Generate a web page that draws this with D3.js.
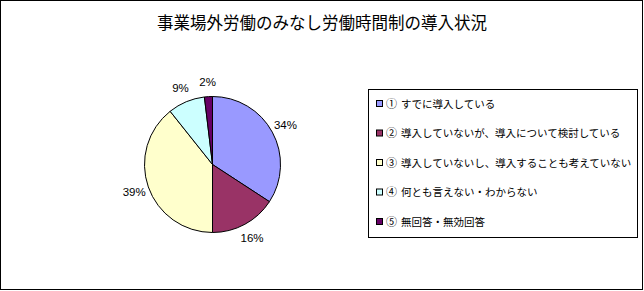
<!DOCTYPE html>
<html>
<head>
<meta charset="utf-8">
<script src="https://cdn.jsdelivr.net/npm/d3@7"></script>
<style>
  body { margin: 0; background: #fff; }
  svg { display: block; }
  text { font-family: "Noto Sans CJK JP", sans-serif; }
</style>
</head>
<body>
<svg id="canvas" width="644" height="291"></svg>
<script>
let chart_title = '事業場外労働のみなし労働時間制の導入状況'
let markers = ['①', '②', '③', '④', '⑤']
let categories = [
    'すでに導入している',
    '導入していないが、導入について検討している',
    '導入していないし、導入することも考えていない',
    '何とも言えない・わからない',
    '無回答・無効回答'
]
let values = [34.2, 15.8, 39.3, 8.8, 1.9]
let labels = ['34%', '16%', '39%', '9%', '2%']
let colors = ['#9999FF', '#993366', '#FFFFCC', '#CCFFFF', '#660066']

let canvas = d3.select('#canvas')

// outer chart frame
canvas.append('rect')
    .attr('x', 0.5).attr('y', 0.5)
    .attr('width', 642).attr('height', 289)
    .attr('fill', '#fff').attr('stroke', '#000').attr('stroke-width', 1)

canvas.append('text')
    .attr('x', 322).attr('y', 29)
    .attr('text-anchor', 'middle')
    .attr('font-size', 16.5)
    .text(chart_title)

// pie
let cx = 212.5, cy = 164.5, r = 68
let pie = d3.pie().sort(null).value(d => d)
let arcs = pie(values)
let arc = d3.arc().innerRadius(0).outerRadius(r)
let labelArc = d3.arc().innerRadius(83).outerRadius(83)

let g = canvas.append('g').attr('transform', 'translate(' + cx + ',' + cy + ')')

g.selectAll('path')
    .data(arcs)
    .enter()
    .append('path')
    .attr('d', arc)
    .attr('fill', (d, i) => colors[i])
    .attr('stroke', '#000')
    .attr('stroke-width', 1)

g.selectAll('text.lbl')
    .data(arcs)
    .enter()
    .append('text')
    .attr('class', 'lbl')
    .attr('transform', d => 'translate(' + labelArc.centroid(d) + ')')
    .attr('text-anchor', 'middle')
    .attr('dy', '0.36em')
    .attr('font-size', 11.5)
    .style('font-family', '"Liberation Sans", Arial, sans-serif')
    .text((d, i) => labels[i])

// legend
let lx = 368.5, ly = 89.5, lw = 269, lh = 148
canvas.append('rect')
    .attr('x', lx).attr('y', ly)
    .attr('width', lw).attr('height', lh)
    .attr('fill', '#fff').attr('stroke', '#000').attr('stroke-width', 1)

let yScale = d3.scalePoint()
    .domain(categories)
    .range([104, 222])

let items = canvas.append('g').selectAll('g')
    .data(categories)
    .enter()
    .append('g')
    .attr('transform', d => 'translate(0,' + yScale(d) + ')')

items.append('rect')
    .attr('x', 376.5).attr('y', -3.5)
    .attr('width', 6).attr('height', 6)
    .attr('fill', (d, i) => colors[i])
    .attr('stroke', '#000').attr('stroke-width', 1)

items.append('text')
    .attr('x', 386)
    .attr('dy', '0.36em')
    .attr('font-size', 11)
    .text((d, i) => markers[i])

items.append('text')
    .attr('x', 401)
    .attr('dy', '0.36em')
    .attr('font-size', 10.5)
    .text(d => d)
</script>
</body>
</html>
